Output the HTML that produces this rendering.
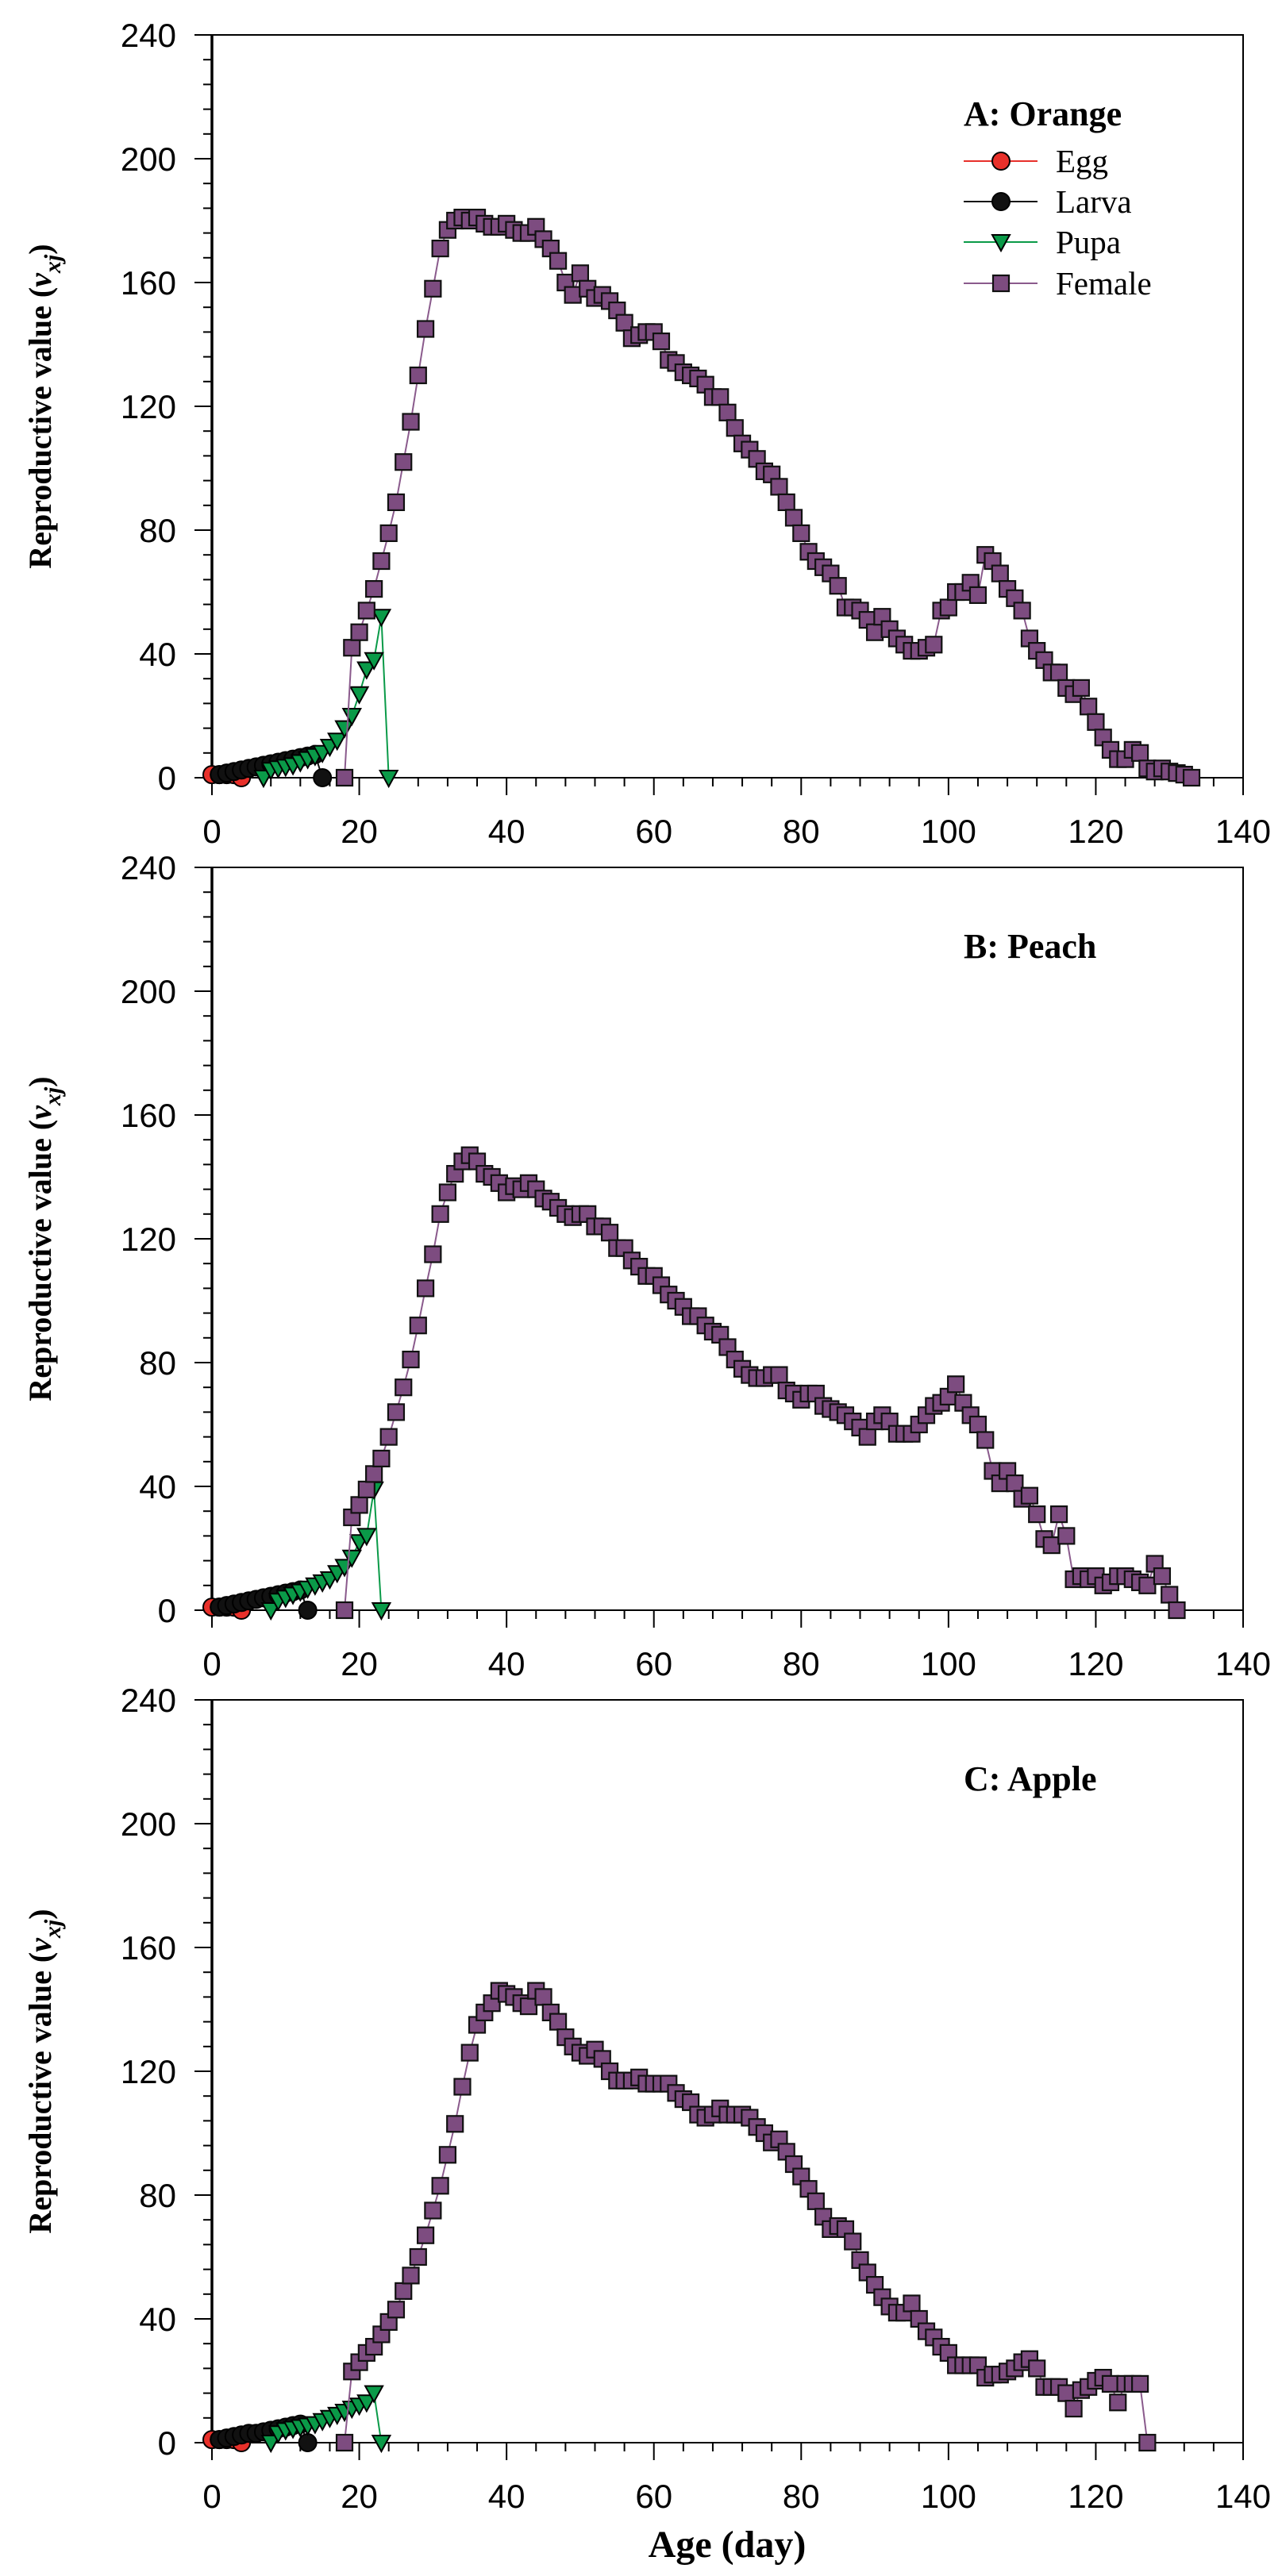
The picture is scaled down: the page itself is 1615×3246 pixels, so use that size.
<!DOCTYPE html>
<html><head><meta charset="utf-8"><style>
html,body{margin:0;padding:0;background:#fff;}
svg{display:block;}
</style></head><body>
<svg id="chart" xmlns="http://www.w3.org/2000/svg" width="1615" height="3246" viewBox="0 0 1615 3246">
<rect x="0" y="0" width="1615" height="3246" fill="#fff"/>
<text x="916" y="3222" text-anchor="middle" font-family="Liberation Serif, serif" font-weight="bold" font-size="48">Age (day)</text>
</svg>
<script>
// ---- data ----
const xTicks = [0,20,40,60,80,100,120,140];
const yTicks = [0,40,80,120,160,200,240];
const panelTitles = ["A: Orange","B: Peach","C: Apple"];
const legendLabels = ["Egg","Larva","Pupa","Female"];

const eggStartA = 0;    const eggA = [1,1,1,1,0];
const larvaStartA = 1;  const larvaA = [1,1.5,2,2.5,3,3.5,4,4.5,5,5.5,6,6.5,7,7.5,0];
const pupaStartA = 7;   const pupaA = [0,2.5,3,3.5,4,5,6,7,8,10,12,16,20,27,35,38,52,0];
const femaleStartA = 18;
const femaleA = [0,42,47,54,61,70,79,89,102,115,130,145,158,171,177,180,181,180,181,179,178,178,179,177,176,176,178,174,171,167,160,156,163,158,155,156,154,151,147,142,143,144,144,141,135,134,131,130,129,127,123,123,118,113,108,106,103,99,98,94,89,84,79,73,70,68,66,62,55,55,54,51,47,52,48,45,43,41,41,42,43,54,55,60,60,63,59,72,70,66,61,58,54,45,41,38,34,34,29,27,29,23,18,13,9,6,6,9,8,3,2,3,2,1.5,1,0];

const eggStartB = 0;    const eggB = [1,1,1,1,0];
const larvaStartB = 1;  const larvaB = [1,1.5,2,2.5,3,3.5,4,4.5,5,5.5,6,6.5,0];
const pupaStartB = 8;   const pupaB = [0,3,4,5,6,7,8,9,10,12,14,17,22,24,39,0];
const femaleStartB = 18;
const femaleB = [0,30,34,39,44,49,56,64,72,81,92,104,115,128,135,141,145,147,145,141,140,138,135,137,136,138,136,133,132,130,128,127,128,128,124,124,122,117,117,113,111,108,108,105,102,100,98,95,95,92,90,89,85,81,78,76,75,75,76,76,71,70,68,70,70,66,65,64,63,61,59,56,61,63,61,57,57,57,60,63,66,67,69,73,67,63,60,55,45,41,45,41,36,37,31,23,21,31,24,10,11,10,11,8,9,11,11,10,9,8,15,11,5,0];

const eggStartC = 0;    const eggC = [1,1,1,1,0];
const larvaStartC = 1;  const larvaC = [1,1.5,2,2.5,3,3,3.5,4,4.5,5,5.5,6,0];
const pupaStartC = 8;   const pupaC = [0,3,4,4.5,5,5.5,6,7,8,9,10,11,12,13,16,0];
const femaleStartC = 18;
const femaleC = [0,23,26,29,31,35,39,43,49,54,60,67,75,83,93,103,115,126,135,139,142,146,145,144,142,141,146,144,139,136,131,128,126,125,127,124,120,117,117,117,118,116,116,116,116,113,111,110,106,105,106,108,106,106,106,105,102,100,97,98,94,90,86,82,78,73,69,70,69,65,59,55,51,47,44,42,42,45,40,36,34,31,29,25,25,25,25,21,22,22,23,24,26,27,24,18,18,18,16,11,17,18,20,21,19,13,19,19,19,0];

const panels = [
  {name:"orange", zero:980, egg:eggA, eggS:eggStartA, larva:larvaA, larvaS:larvaStartA, pupa:pupaA, pupaS:pupaStartA, female:femaleA, femaleS:femaleStartA},
  {name:"peach", zero:2029, egg:eggB, eggS:eggStartB, larva:larvaB, larvaS:larvaStartB, pupa:pupaB, pupaS:pupaStartB, female:femaleB, femaleS:femaleStartB},
  {name:"apple", zero:3078, egg:eggC, eggS:eggStartC, larva:larvaC, larvaS:larvaStartC, pupa:pupaC, pupaS:pupaStartC, female:femaleC, femaleS:femaleStartC}
];

// ---- layout ----
const NS = "http://www.w3.org/2000/svg";
const svg = document.getElementById("chart");
const X0 = 267, X1 = 1566, XMAX = 140, YMAX = 240, PH = 936;
const COL = {egg:"#e8302a", larva:"#111", pupa:"#0a9a48", female:"#7d4c80"};
const LINE = {egg:"#e8302a", larva:"#111", pupa:"#0a9a48", female:"#8a5a8c"};
function xs(d){ return X0 + d/XMAX*(X1-X0); }
function mk(tag, attrs, parent){
  const e = document.createElementNS(NS, tag);
  for (const k in attrs) e.setAttribute(k, attrs[k]);
  (parent||svg).appendChild(e);
  return e;
}
function marker(type, cx, cy, g){
  let e;
  if (type==="egg" || type==="larva"){
    e = mk("circle",{cx:cx, cy:cy, r:11, fill:COL[type], stroke:"#000", "stroke-width":2}, g);
  } else if (type==="pupa"){
    e = mk("polygon",{points:(cx-11)+","+(cy-9)+" "+(cx+11)+","+(cy-9)+" "+cx+","+(cy+11), fill:COL.pupa, stroke:"#000", "stroke-width":2}, g);
  } else {
    e = mk("rect",{x:cx-10, y:cy-10, width:20, height:20, fill:COL.female, stroke:"#111", "stroke-width":2.2}, g);
  }
  return e;
}

panels.forEach((p, pi) => {
  const zero = p.zero, top = zero - PH;
  const ys = v => zero - v/YMAX*PH;
  const g = mk("g", {});
  
  

  const fr = mk("rect",{x:X0, y:top, width:X1-X0, height:PH, fill:"none", stroke:"#000", "stroke-width":2}, g);
  
  
  const la = mk("line",{x1:X0, y1:top, x2:X0, y2:zero, stroke:"#000", "stroke-width":3.5}, g);
  
  

  for (let v=0; v<=YMAX; v+=8){
    const major = v%40===0;
    const t = mk("line",{x1:X0-(major?22:11), y1:ys(v), x2:X0, y2:ys(v), stroke:"#000", "stroke-width":2}, g);
    
    
  }
  yTicks.forEach(v => {
    const t = mk("text",{x:222, y:ys(v)+15, "text-anchor":"end", "font-family":"Liberation Sans, sans-serif", "font-size":42}, g);
    t.textContent = v;
    
    
  });
  for (let d=0; d<=XMAX; d+=4){
    const major = d%20===0;
    const t = mk("line",{x1:xs(d), y1:zero, x2:xs(d), y2:zero+(major?22:11), stroke:"#000", "stroke-width":2}, g);
    
    
  }
  xTicks.forEach(d => {
    const t = mk("text",{x:xs(d), y:zero+82, "text-anchor":"middle", "font-family":"Liberation Sans, sans-serif", "font-size":42}, g);
    t.textContent = d;
    
    
  });

  const cy = (top+zero)/2;
  const yt = mk("text",{x:0, y:0, transform:"translate(64,"+cy+") rotate(-90)", "text-anchor":"middle", "font-family":"Liberation Serif, serif", "font-weight":"bold", "font-size":40}, g);
  
  
  yt.innerHTML = 'Reproductive value (<tspan font-style="italic">v</tspan><tspan font-style="italic" font-size="30" dy="12">xj</tspan><tspan dy="-12">)</tspan>';

  const pt = mk("text",{x:1214, y:top+114, "font-family":"Liberation Serif, serif", "font-weight":"bold", "font-size":44}, g);
  pt.textContent = panelTitles[pi];
  
  

  const series = [["egg",p.egg,p.eggS],["larva",p.larva,p.larvaS],["pupa",p.pupa,p.pupaS],["female",p.female,p.femaleS]];
  series.forEach(([type, vals, start]) => {
    const sg = mk("g",{}, g);
    
    
    const pts = vals.map((v,i) => xs(start+i).toFixed(1)+","+ys(v).toFixed(1)).join(" ");
    const pl = mk("polyline",{points:pts, fill:"none", stroke:LINE[type], "stroke-width":2}, sg);
    
    
    vals.forEach((v,i) => {
      const m = marker(type, xs(start+i), ys(v), sg);
      
      
    });
  });

  if (pi===0){
    const lg = mk("g",{}, g);
    
    
    const types = ["egg","larva","pupa","female"];
    const ly = [203,254,305,357];
    types.forEach((t,i) => {
      const ln = mk("line",{x1:1214, y1:ly[i], x2:1307, y2:ly[i], stroke:LINE[t], "stroke-width":2}, lg);
      
      
      const m = marker(t, 1261, ly[i], lg);
      
      
      const tx = mk("text",{x:1330, y:ly[i]+14, "font-family":"Liberation Serif, serif", "font-size":41}, lg);
      tx.textContent = legendLabels[i];
      
      
    });
  }
});
</script>
</body></html>
